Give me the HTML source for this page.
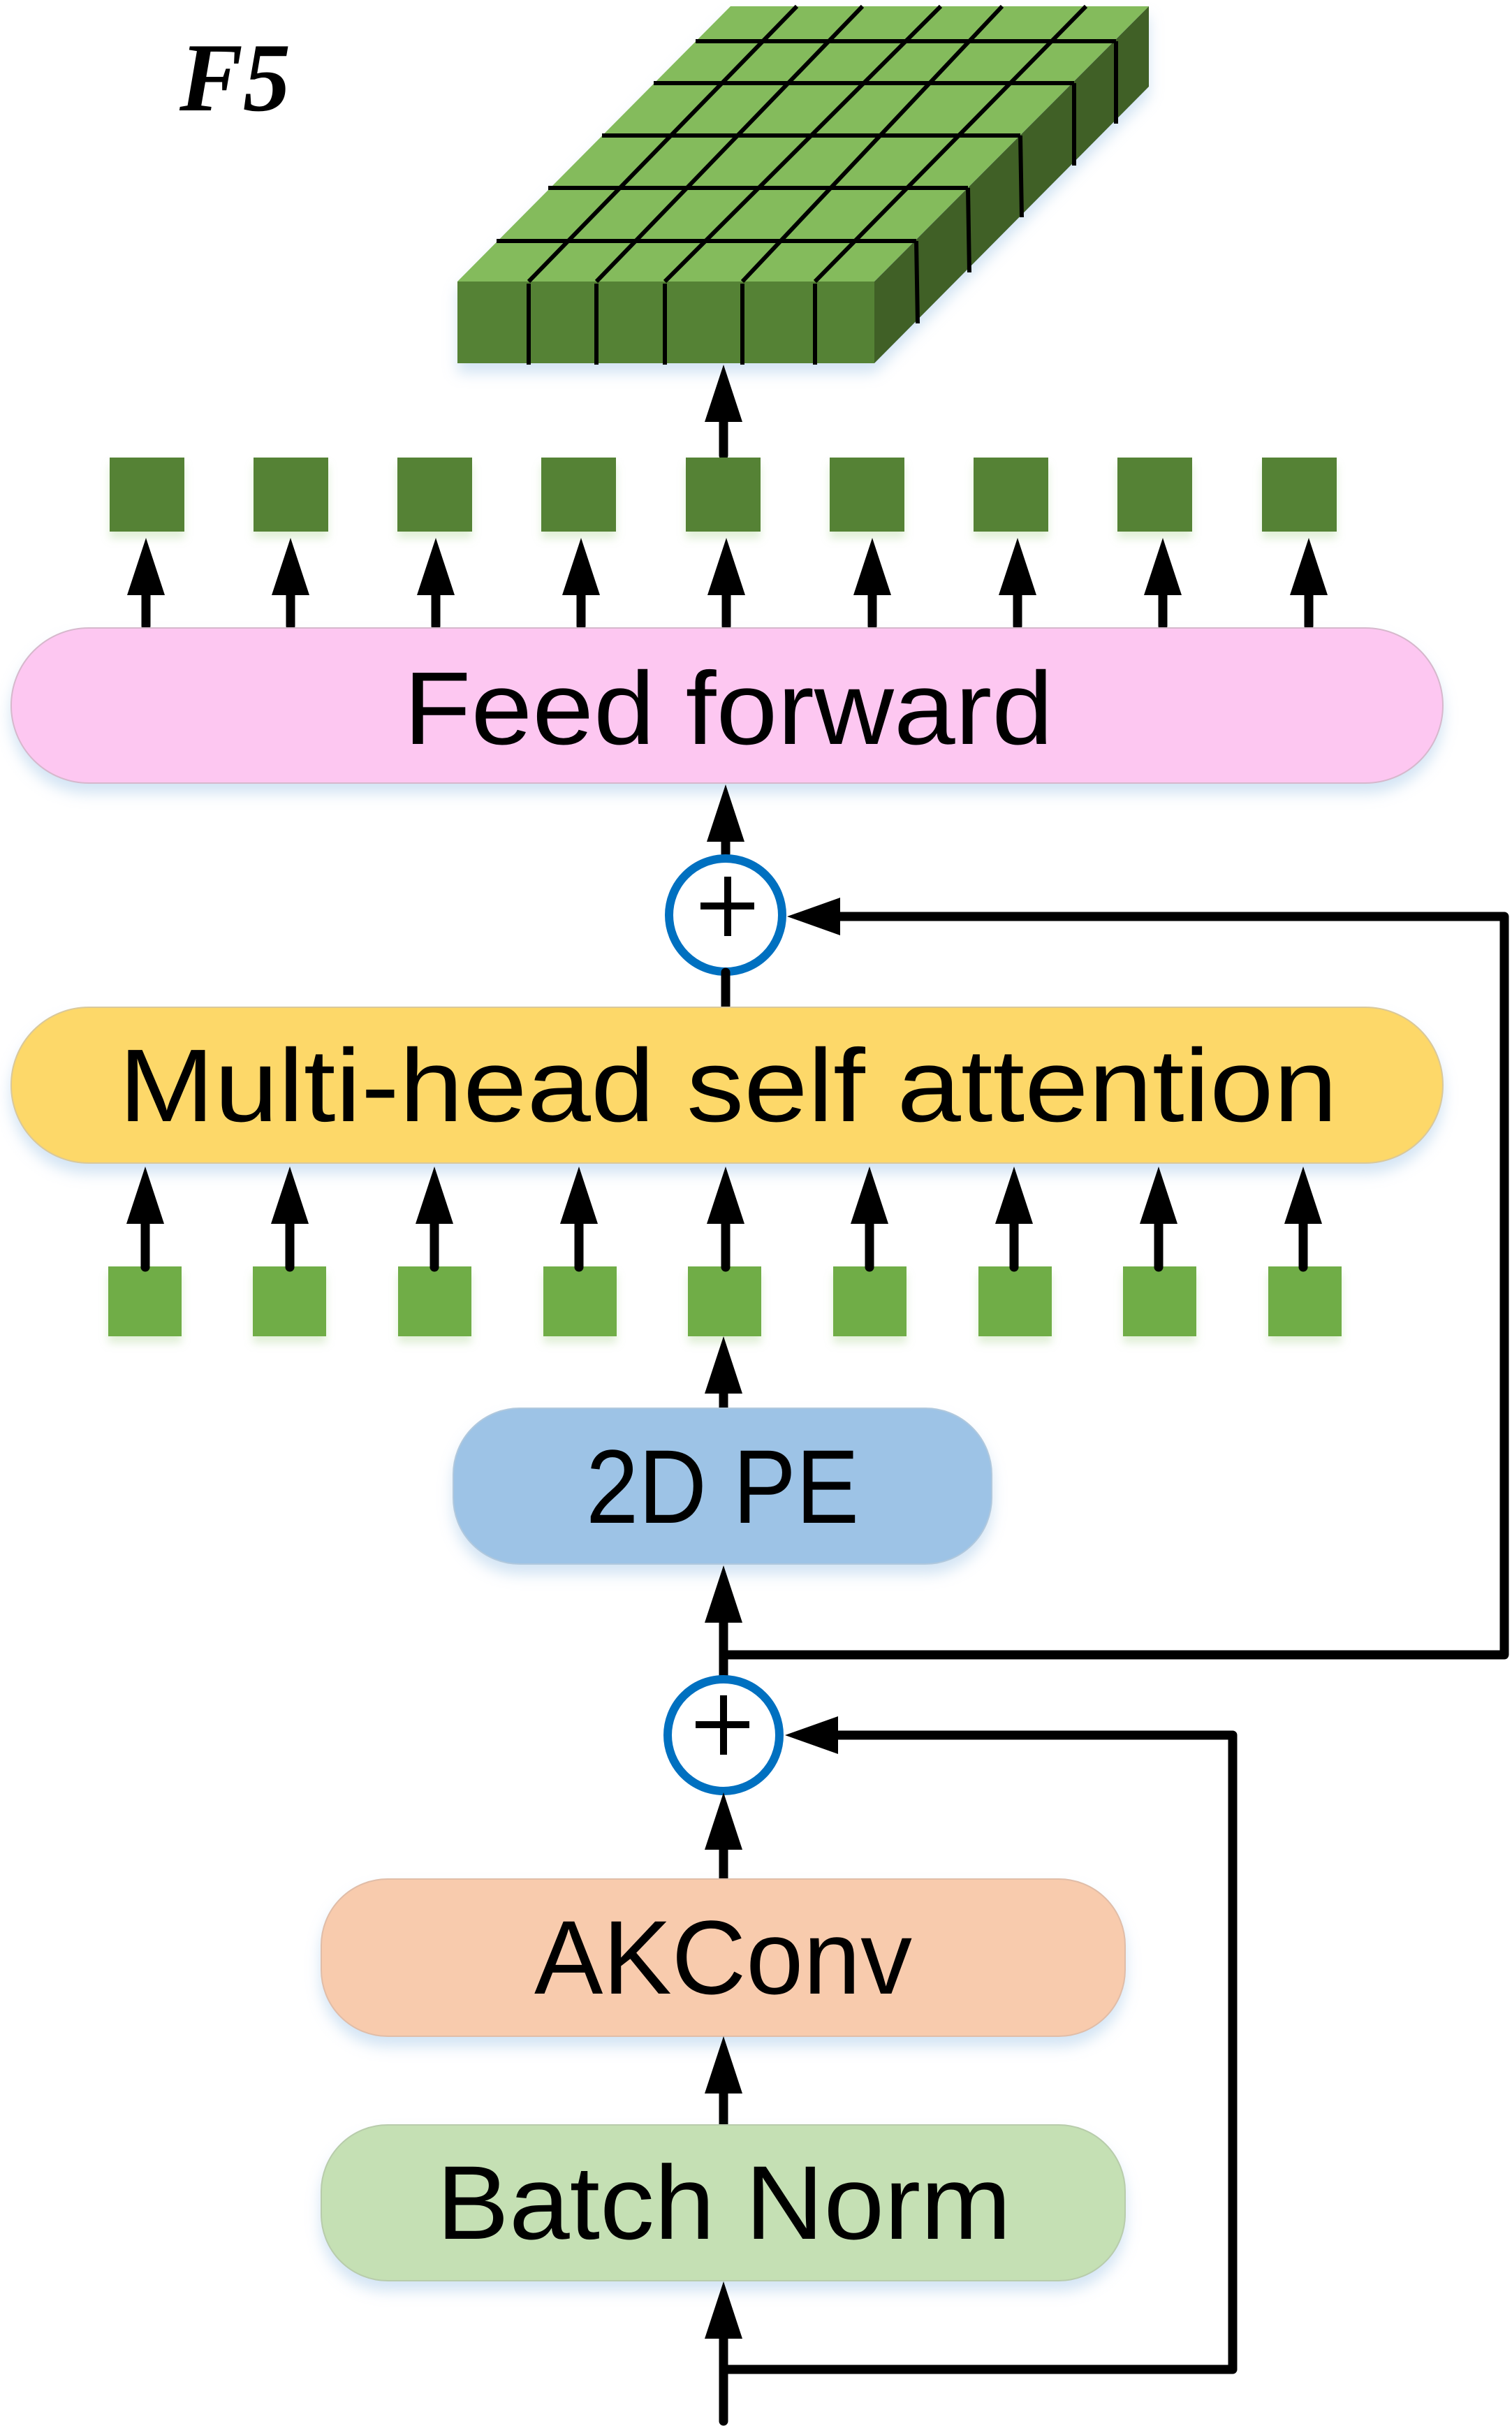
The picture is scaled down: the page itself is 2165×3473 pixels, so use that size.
<!DOCTYPE html>
<html><head><meta charset="utf-8"><style>
html,body{margin:0;padding:0;background:#fff}
svg{display:block}
text{font-family:"Liberation Sans",sans-serif;fill:#000}
</style></head><body>
<svg width="2165" height="3473" viewBox="0 0 2165 3473" xmlns="http://www.w3.org/2000/svg">
<defs>
<filter id="sh" x="-5%" y="-20%" width="110%" height="150%">
<feDropShadow dx="0" dy="14" stdDeviation="10" flood-color="#9dc3e6" flood-opacity="0.45"/>
</filter>
<filter id="sh2" x="-20%" y="-20%" width="140%" height="150%">
<feDropShadow dx="0" dy="10" stdDeviation="6" flood-color="#a9d18e" flood-opacity="0.35"/>
</filter>
<g id="ar1">
<line x1="0" y1="80" x2="0" y2="126" stroke="#000" stroke-width="13" stroke-linecap="round"/>
<polygon points="0,0 -27,82 27,82" fill="#000"/>
</g>
<g id="ar2">
<line x1="0" y1="80" x2="0" y2="144" stroke="#000" stroke-width="13" stroke-linecap="round"/>
<polygon points="0,0 -27,82 27,82" fill="#000"/>
</g>
</defs>

<text x="257" y="158" style="font-family:'Liberation Serif',serif;font-style:italic;font-weight:bold" font-size="140" textLength="159" lengthAdjust="spacingAndGlyphs">F5</text>

<g filter="url(#sh)">
<polygon points="655,403 1252,403 1645,9 1046,9" fill="#84bb5c"/>
<polygon points="1252,403 1645,9 1645,124 1252,520" fill="#3f6128"/>
<rect x="655" y="403" width="597" height="117" fill="#548235"/>
</g>
<g stroke="#000" stroke-width="6" fill="none">
<line x1="757" y1="403" x2="1141" y2="9"/>
<line x1="854" y1="403" x2="1235" y2="9"/>
<line x1="952" y1="403" x2="1347" y2="9"/>
<line x1="1063" y1="403" x2="1435" y2="9"/>
<line x1="1167" y1="403" x2="1555" y2="9"/>
<line x1="711" y1="345" x2="1312" y2="345"/>
<line x1="785" y1="269" x2="1386" y2="269"/>
<line x1="862" y1="194" x2="1461" y2="194"/>
<line x1="936" y1="119" x2="1538" y2="119"/>
<line x1="996" y1="59" x2="1598" y2="59"/>
<line x1="1312" y1="345" x2="1314" y2="463"/>
<line x1="1386" y1="269" x2="1388" y2="390"/>
<line x1="1461" y1="194" x2="1463" y2="311"/>
<line x1="1538" y1="119" x2="1538" y2="237"/>
<line x1="1598" y1="59" x2="1598" y2="177"/>
<line x1="757" y1="406" x2="757" y2="522"/>
<line x1="854" y1="406" x2="854" y2="522"/>
<line x1="952" y1="406" x2="952" y2="522"/>
<line x1="1063" y1="406" x2="1063" y2="522"/>
<line x1="1167" y1="406" x2="1167" y2="522"/>
</g>

<line x1="1036" y1="652" x2="1036" y2="600" stroke="#000" stroke-width="13" stroke-linecap="round"/>
<polygon points="1036,522 1009,604 1063,604" fill="#000"/>

<g fill="#548235" filter="url(#sh2)">
<rect x="157" y="655" width="107" height="106"/>
<rect x="363" y="655" width="107" height="106"/>
<rect x="569" y="655" width="107" height="106"/>
<rect x="775" y="655" width="107" height="106"/>
<rect x="982" y="655" width="107" height="106"/>
<rect x="1188" y="655" width="107" height="106"/>
<rect x="1394" y="655" width="107" height="106"/>
<rect x="1600" y="655" width="107" height="106"/>
<rect x="1807" y="655" width="107" height="106"/>
</g>

<use href="#ar1" x="209" y="770"/>
<use href="#ar1" x="416" y="770"/>
<use href="#ar1" x="624" y="770"/>
<use href="#ar1" x="832" y="770"/>
<use href="#ar1" x="1040" y="770"/>
<use href="#ar1" x="1249" y="770"/>
<use href="#ar1" x="1457" y="770"/>
<use href="#ar1" x="1665" y="770"/>
<use href="#ar1" x="1874" y="770"/>

<rect x="16" y="899" width="2050" height="222" rx="111" ry="111" fill="#fdc7f1" stroke="#d6b8cc" stroke-width="2" filter="url(#sh)"/>
<text x="578" y="1065" font-size="148" textLength="930" lengthAdjust="spacingAndGlyphs">Feed forward</text>

<line x1="1039" y1="1222" x2="1039" y2="1200" stroke="#000" stroke-width="13" stroke-linecap="round"/>
<polygon points="1039,1123 1012,1205 1066,1205" fill="#000"/>

<circle cx="1039" cy="1310" r="81" fill="#fff" stroke="#0070c0" stroke-width="12"/>
<line x1="1003" y1="1297" x2="1080" y2="1297" stroke="#000" stroke-width="10"/>
<line x1="1042" y1="1255" x2="1042" y2="1340" stroke="#000" stroke-width="10"/>
<line x1="1039" y1="1392" x2="1039" y2="1440" stroke="#000" stroke-width="13" stroke-linecap="round"/>

<polyline points="1200,1312 2154,1312 2154,2369 1036,2369" fill="none" stroke="#000" stroke-width="13" stroke-linejoin="round"/>
<polygon points="1127,1312 1203,1285 1203,1339" fill="#000"/>

<rect x="16" y="1442" width="2050" height="223" rx="111" ry="111" fill="#fdd869" stroke="#d9c89a" stroke-width="2" filter="url(#sh)"/>
<text x="170" y="1605" font-size="148" textLength="1745" lengthAdjust="spacingAndGlyphs">Multi-head self attention</text>

<g fill="#70ad47" filter="url(#sh2)">
<rect x="155" y="1813" width="105" height="100"/>
<rect x="362" y="1813" width="105" height="100"/>
<rect x="570" y="1813" width="105" height="100"/>
<rect x="778" y="1813" width="105" height="100"/>
<rect x="985" y="1813" width="105" height="100"/>
<rect x="1193" y="1813" width="105" height="100"/>
<rect x="1401" y="1813" width="105" height="100"/>
<rect x="1608" y="1813" width="105" height="100"/>
<rect x="1816" y="1813" width="105" height="100"/>
</g>
<use href="#ar2" x="208" y="1670"/>
<use href="#ar2" x="415" y="1670"/>
<use href="#ar2" x="622" y="1670"/>
<use href="#ar2" x="829" y="1670"/>
<use href="#ar2" x="1039" y="1670"/>
<use href="#ar2" x="1245" y="1670"/>
<use href="#ar2" x="1452" y="1670"/>
<use href="#ar2" x="1659" y="1670"/>
<use href="#ar2" x="1866" y="1670"/>

<line x1="1036" y1="1990" x2="1036" y2="2016" stroke="#000" stroke-width="13" stroke-linecap="round"/>
<polygon points="1036,1913 1009,1995 1063,1995" fill="#000"/>

<rect x="649" y="2016" width="771" height="223" rx="95" ry="95" fill="#9dc3e6" stroke="#b0c8dd" stroke-width="2" filter="url(#sh)"/>
<text x="839" y="2180" font-size="150" textLength="391" lengthAdjust="spacingAndGlyphs">2D PE</text>

<line x1="1036" y1="2320" x2="1036" y2="2405" stroke="#000" stroke-width="13" stroke-linecap="round"/>
<polygon points="1036,2241 1009,2323 1063,2323" fill="#000"/>

<circle cx="1036" cy="2484" r="80" fill="#fff" stroke="#0070c0" stroke-width="12"/>
<line x1="996" y1="2469" x2="1073" y2="2469" stroke="#000" stroke-width="10"/>
<line x1="1036" y1="2427" x2="1036" y2="2512" stroke="#000" stroke-width="10"/>

<polyline points="1200,2484 1765,2484 1765,3392 1036,3392" fill="none" stroke="#000" stroke-width="13" stroke-linejoin="round"/>
<polygon points="1124,2484 1200,2457 1200,2511" fill="#000"/>

<line x1="1036" y1="2640" x2="1036" y2="2690" stroke="#000" stroke-width="13" stroke-linecap="round"/>
<polygon points="1036,2566 1009,2648 1063,2648" fill="#000"/>

<rect x="460" y="2690" width="1151" height="225" rx="95" ry="95" fill="#f8cbad" stroke="#e0bda8" stroke-width="2" filter="url(#sh)"/>
<text x="765" y="2854" font-size="150" textLength="541" lengthAdjust="spacingAndGlyphs">AKConv</text>

<line x1="1036" y1="2990" x2="1036" y2="3042" stroke="#000" stroke-width="13" stroke-linecap="round"/>
<polygon points="1036,2915 1009,2997 1063,2997" fill="#000"/>

<rect x="460" y="3042" width="1151" height="223" rx="95" ry="95" fill="#c5e0b4" stroke="#b8ccab" stroke-width="2" filter="url(#sh)"/>
<text x="625" y="3205" font-size="150" textLength="823" lengthAdjust="spacingAndGlyphs">Batch Norm</text>

<line x1="1036" y1="3340" x2="1036" y2="3466" stroke="#000" stroke-width="13" stroke-linecap="round"/>
<polygon points="1036,3266 1009,3348 1063,3348" fill="#000"/>
</svg>
</body></html>
